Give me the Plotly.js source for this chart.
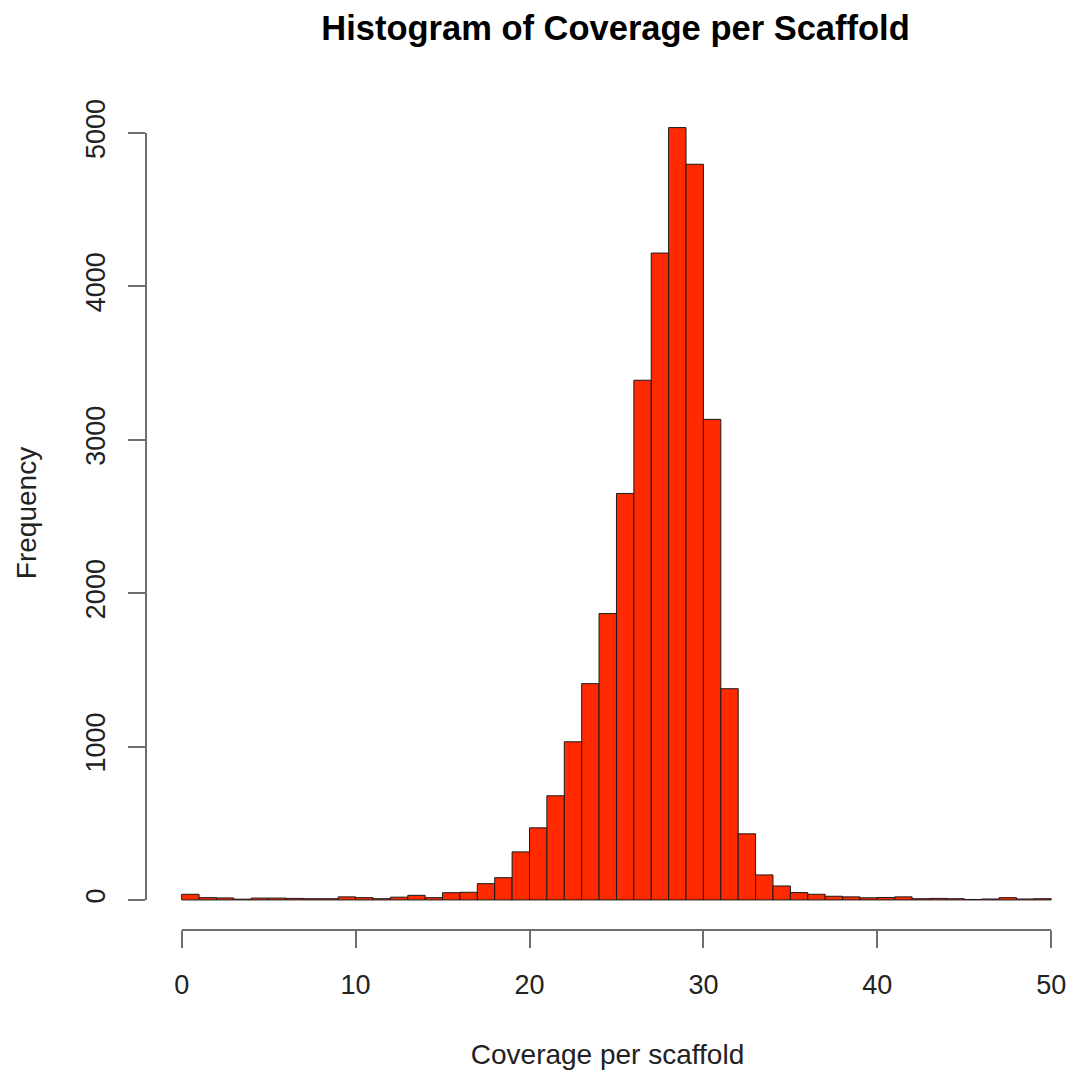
<!DOCTYPE html>
<html>
<head>
<meta charset="utf-8">
<script src="https://cdn.plot.ly/plotly-3.0.1.min.js"></script>
<style>html,body{margin:0;padding:0;background:#fff;}</style>
</head>
<body>
<div id="chart" style="width:1069px;height:1075px;"></div>
<script>
// Bin centres (bins of width 1 from 0 to 50)
const binCenters = [0.5,1.5,2.5,3.5,4.5,5.5,6.5,7.5,8.5,9.5,
  10.5,11.5,12.5,13.5,14.5,15.5,16.5,17.5,18.5,19.5,
  20.5,21.5,22.5,23.5,24.5,25.5,26.5,27.5,28.5,29.5,
  30.5,31.5,32.5,33.5,34.5,35.5,36.5,37.5,38.5,39.5,
  40.5,41.5,42.5,43.5,44.5,45.5,46.5,47.5,48.5,49.5];
// Frequency per bin
const frequency = [37,15,13,5,12,12,10,8,8,20,
  15,8,18,30,15,47,50,106,145,313,
  470,679,1031,1410,1867,2650,3388,4217,5035,4796,
  3133,1377,431,163,91,48,37,24,20,14,
  16,20,8,10,8,3,6,15,6,8];
const xTicks = [0,10,20,30,40,50];
const yTicks = [0,1000,2000,3000,4000,5000];
const titleText = "Histogram of Coverage per Scaffold";
const xTitle = "Coverage per scaffold";
const yTitle = "Frequency";

const axisGray = "#6e6e6e";
const font = "Liberation Sans, Arial, Helvetica, sans-serif";

const trace = {
  type: "bar",
  x: binCenters,
  y: frequency,
  width: 1,
  marker: {color: "#ff2a00", line: {color: "#1a1a1a", width: 1}},
  hoverinfo: "x+y"
};

const layout = {
  width: 1069, height: 1075,
  margin: {l: 146, r: 0, t: 96, b: 145, pad: 0},
  paper_bgcolor: "#ffffff", plot_bgcolor: "#ffffff",
  showlegend: false,
  bargap: 0,
  font: {family: font, color: "#222222"},
  title: {
    text: titleText,
    font: {family: font, size: 34.5, weight: "bold", color: "#000000"},
    xref: "container", x: 615.5/1069, xanchor: "center",
    yref: "container", y: 1 - 28/1075, yanchor: "middle"
  },
  xaxis: {
    range: [-2.05, 51.02],
    showgrid: false, zeroline: false, showline: false,
    tickmode: "array", tickvals: xTicks, ticktext: xTicks.map(String),
    ticks: "outside", ticklen: 17, tickwidth: 2, tickcolor: axisGray,
    tickfont: {family: font, size: 27, color: "#222222"},
    ticklabelstandoff: 14,
    title: {text: xTitle, font: {family: font, size: 28, color: "#222222"}, standoff: 44}
  },
  yaxis: {
    range: [-196, 5241],
    showgrid: false, zeroline: false, showline: false,
    tickmode: "array", tickvals: yTicks, ticktext: yTicks.map(String),
    ticks: "outside", ticklen: 17, tickwidth: 2, tickcolor: axisGray,
    tickangle: -90,
    tickfont: {family: font, size: 27, color: "#222222"},
    ticklabelstandoff: 12,
    title: {text: yTitle, font: {family: font, size: 28, color: "#222222"}, standoff: 36}
  },
  shapes: [
    {type: "line", xref: "x", yref: "paper", x0: xTicks[0], x1: xTicks[xTicks.length-1], y0: 0, y1: 0,
     line: {color: axisGray, width: 2}},
    {type: "line", xref: "paper", yref: "y", x0: 0, x1: 0, y0: yTicks[0], y1: yTicks[yTicks.length-1],
     line: {color: axisGray, width: 2}}
  ]
};

Plotly.newPlot("chart", [trace], layout, {displayModeBar: false, staticPlot: true});
</script>
</body>
</html>
